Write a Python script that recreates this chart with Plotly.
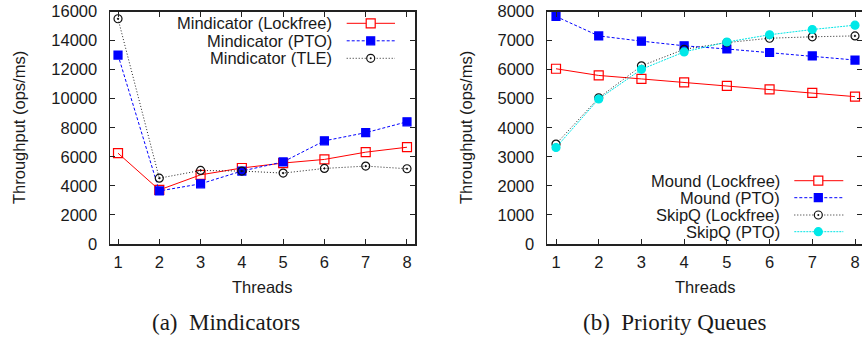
import plotly.graph_objects as go

W, H = 862, 339

threads = [1, 2, 3, 4, 5, 6, 7, 8]

# (a) Mindicators
mind_lockfree = [6250, 3720, 4760, 5230, 5570, 5820, 6320, 6660]
mind_pto = [13000, 3650, 4140, 5020, 5650, 7100, 7660, 8410]
mind_tle = [15500, 4530, 5060, 5020, 4880, 5200, 5360, 5180]

# (b) Priority Queues
mound_lockfree = [6030, 5800, 5680, 5560, 5440, 5320, 5200, 5070]
mound_pto = [7830, 7160, 6980, 6820, 6710, 6590, 6470, 6330]
skipq_lockfree = [3440, 5030, 6130, 6700, 6930, 7080, 7130, 7160]
skipq_pto = [3320, 4990, 6010, 6610, 6950, 7200, 7380, 7530]

left_ticks = [0, 2000, 4000, 6000, 8000, 10000, 12000, 14000, 16000]
right_ticks = [0, 1000, 2000, 3000, 4000, 5000, 6000, 7000, 8000]

left_names = ["Mindicator (Lockfree)", "Mindicator (PTO)", "Mindicator (TLE)"]
right_names = ["Mound (Lockfree)", "Mound (PTO)", "SkipQ (Lockfree)", "SkipQ (PTO)"]

SANS = "Liberation Sans, Arial, Helvetica, sans-serif"
SERIF = "Liberation Serif, Times New Roman, serif"
TXT = "#1a1a1a"
FS = 16.5


def px(x):
    return x / W


def py(y):
    return 1 - y / H


styles = {
    "lf": dict(color="#ff0000", dash="solid", symbol="square-open", msize=9, mcolor="#ff0000"),
    "pto": dict(color="#0000ff", dash="3px,2px", symbol="square", msize=8, mcolor="#0000ff"),
    "tle": dict(color="#222222", dash="1px,2px", symbol="circle-open-dot", msize=8, mcolor="#111111"),
    "cyan": dict(color="#00e5e5", dash="2px,1px", symbol="circle", msize=8, mcolor="#00e8e8"),
}

fig = go.Figure()


def add(x, y, st, xa, ya, name):
    s = styles[st]
    fig.add_trace(go.Scatter(
        x=x, y=y, mode="lines+markers", name=name, showlegend=False,
        xaxis=xa, yaxis=ya, cliponaxis=True, hoverinfo="skip",
        line=dict(color=s["color"], width=1, dash=s["dash"]),
        marker=dict(symbol=s["symbol"], size=s["msize"], color=s["mcolor"],
                    line=dict(color=s["mcolor"], width=1.2)),
    ))


add(threads, mind_lockfree, "lf", "x", "y", left_names[0])
add(threads, mind_pto, "pto", "x", "y", left_names[1])
add(threads, mind_tle, "tle", "x", "y", left_names[2])
add(threads, mound_lockfree, "lf", "x2", "y2", right_names[0])
add(threads, mound_pto, "pto", "x2", "y2", right_names[1])
add(threads, skipq_lockfree, "tle", "x2", "y2", right_names[2])
add(threads, skipq_pto, "cyan", "x2", "y2", right_names[3])

axis_common = dict(
    showline=True, linecolor="#222222", linewidth=1.5, mirror="ticks",
    ticks="inside", ticklen=5, tickwidth=1, tickcolor="#222222",
    showgrid=False, zeroline=False, automargin=False,
    tickformat="d", ticklabeloverflow="allow",
    tickfont=dict(family=SANS, size=FS, color=TXT),
)

ydom = [py(244), py(11.5)]

fig.update_layout(
    template="none",
    width=W, height=H,
    margin=dict(l=0, r=0, t=0, b=0, pad=0),
    paper_bgcolor="white", plot_bgcolor="white",
    showlegend=False,
    xaxis=dict(domain=[px(110), px(415)], range=[0.806, 8.194],
               tickvals=threads, anchor="y", ticklabelstandoff=3, **axis_common),
    yaxis=dict(domain=ydom, range=[0, 16000], tickvals=left_ticks,
               anchor="x", ticklabelstandoff=8, **axis_common),
    xaxis2=dict(domain=[px(547), 1.0], range=[0.789, 8.164],
                tickvals=threads, anchor="y2", ticklabelstandoff=3, **axis_common),
    yaxis2=dict(domain=ydom, range=[0, 8000], tickvals=right_ticks,
                anchor="x2", ticklabelstandoff=8, **axis_common),
)

annotations = []
shapes = []


def label(x, y, text, size=FS, family=SANS, angle=0, xanchor="center"):
    annotations.append(dict(
        x=px(x), y=py(y), xref="paper", yref="paper", text=text, showarrow=False,
        xanchor=xanchor, yanchor="middle", textangle=angle,
        font=dict(family=family, size=size, color=TXT),
    ))


# axis titles
label(262.5, 287, "Threads")
label(705, 287, "Threads")
label(19, 128, "Throughput (ops/ms)", angle=-90)
label(466, 128, "Throughput (ops/ms)", angle=-90)

# captions
label(226, 322, "(a)  Mindicators", size=23, family=SERIF)
label(674, 322, "(b)  Priority Queues", size=23, family=SERIF)


def legend_key(st, yrow, x_text, x0, x1, xm, name):
    s = styles[st]
    label(x_text, yrow, name, xanchor="right")
    shapes.append(dict(type="line", xref="paper", yref="paper",
                       x0=px(x0), x1=px(x1), y0=py(yrow), y1=py(yrow),
                       line=dict(color=s["color"], width=1, dash=s["dash"])))
    r = s["msize"] / 2
    fill = "white" if "open" in s["symbol"] else s["mcolor"]
    kind = "rect" if s["symbol"].startswith("square") else "circle"
    shapes.append(dict(type=kind, xref="paper", yref="paper",
                       x0=px(xm - r), x1=px(xm + r), y0=py(yrow + r), y1=py(yrow - r),
                       fillcolor=fill, line=dict(color=s["mcolor"], width=1.2)))
    if "dot" in s["symbol"]:
        shapes.append(dict(type="circle", xref="paper", yref="paper",
                           x0=px(xm - 1), x1=px(xm + 1), y0=py(yrow + 1), y1=py(yrow - 1),
                           fillcolor=s["mcolor"], line=dict(width=0)))


left_rows = [23.3, 40.8, 58.3]
for st, yr, nm in zip(["lf", "pto", "tle"], left_rows, left_names):
    legend_key(st, yr, 334.3, 346.7, 395, 370.7, nm)

right_rows = [180.7, 197.7, 215, 231.7]
for st, yr, nm in zip(["lf", "pto", "tle", "cyan"], right_rows, right_names):
    legend_key(st, yr, 782.3, 794.3, 843.3, 818.3, nm)

fig.update_layout(annotations=annotations, shapes=shapes, hovermode=False)

fig.write_html(
    "out.html",
    config={"displayModeBar": False, "staticPlot": True},
    post_script="document.body.style.margin='0px';document.body.style.padding='0px';"
                "document.body.style.overflow='hidden';",
)
